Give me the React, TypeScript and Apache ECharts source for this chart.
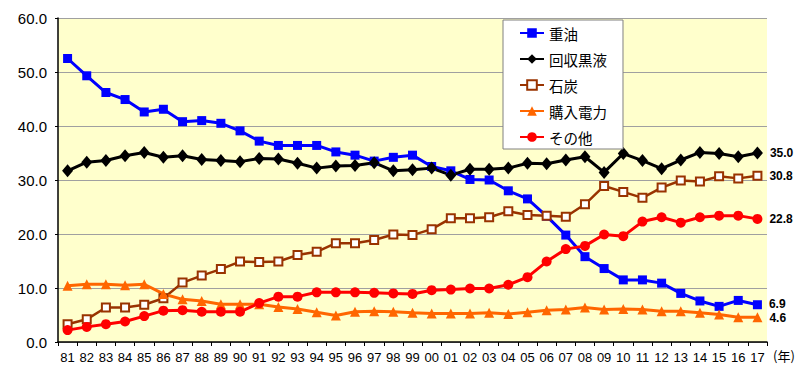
import React, { useEffect, useRef } from "react";
import * as echarts from "echarts";

const years = ["81","82","83","84","85","86","87","88","89","90","91","92","93","94","95","96","97","98","99","00","01","02","03","04","05","06","07","08","09","10","11","12","13","14","15","16","17"];

const heavyOil = [52.5,49.3,46.2,44.9,42.6,43.1,40.8,41.0,40.5,39.1,37.2,36.4,36.4,36.4,35.2,34.6,33.5,34.2,34.6,32.5,31.7,30.1,30.0,28.0,26.5,23.3,19.8,15.8,13.6,11.5,11.5,10.9,9.0,7.6,6.6,7.7,6.9];
const blackLiquor = [31.7,33.3,33.6,34.5,35.1,34.2,34.5,33.8,33.6,33.4,34.0,33.9,33.1,32.2,32.6,32.7,33.2,31.7,31.9,32.2,30.9,32.0,32.0,32.2,33.1,33.0,33.7,34.3,31.4,34.9,33.6,32.1,33.7,35.1,34.9,34.3,35.0];
const coal = [3.3,4.2,6.4,6.4,6.9,8.1,11.0,12.3,13.5,14.9,14.8,14.9,16.1,16.7,18.3,18.3,18.9,19.9,19.8,20.9,22.9,22.9,23.1,24.2,23.5,23.4,23.2,25.5,28.9,27.8,26.7,28.6,29.9,29.7,30.7,30.3,30.8];
const purchased = [10.4,10.7,10.7,10.5,10.7,8.9,7.9,7.6,7.0,7.0,7.0,6.5,6.1,5.5,4.9,5.6,5.7,5.6,5.4,5.3,5.3,5.3,5.4,5.2,5.5,5.9,6.0,6.4,6.0,6.1,6.0,5.7,5.7,5.4,5.1,4.6,4.6];
const other = [2.2,2.8,3.3,3.8,4.8,5.8,5.9,5.6,5.6,5.6,7.2,8.4,8.4,9.2,9.2,9.2,9.1,9.0,8.9,9.6,9.7,9.9,9.9,10.6,12.0,14.9,17.2,17.8,19.9,19.6,22.3,23.1,22.1,23.1,23.4,23.4,22.8];

const yTicks = [0, 10, 20, 30, 40, 50, 60];
const seriesNames = ["重油", "回収黒液", "石炭", "購入電力", "その他"];

const NUM_FONT = "'Liberation Sans', Arial, sans-serif";
const CJK_FONT = "'Noto Sans CJK JP', sans-serif";

function withEndLabel(values: number[], offsetY: number) {
  return values.map((v, i) =>
    i === values.length - 1
      ? {
          value: v,
          label: {
            show: true,
            position: "right",
            distance: 7,
            offset: [0, offsetY],
            formatter: (p: any) => Number(p.value).toFixed(1),
            color: "#000",
            fontWeight: "bold",
            fontSize: 12,
            fontFamily: NUM_FONT,
          },
        }
      : v
  );
}

export default function App() {
  const ref = useRef<HTMLDivElement>(null);
  useEffect(() => {
    if (!ref.current) return;
    const chart = echarts.init(ref.current, undefined, { renderer: "svg" });
    const base = (name: string, data: number[], color: string, symbol: string, size: any, offY: number, extra: any = {}) => ({
      name,
      type: "line",
      data: withEndLabel(data, offY),
      symbol,
      symbolSize: size,
      showAllSymbol: true,
      lineStyle: { color, width: 3 },
      itemStyle: { color },
      emphasis: { disabled: true },
      ...extra,
    });
    chart.setOption({
      animation: false,
      backgroundColor: "#fff",
      grid: {
        left: 58,
        right: 32,
        top: 18,
        bottom: 25,
        show: true,
        backgroundColor: "#FFFFCC",
        borderWidth: 0,
      },
      legend: {
        orient: "vertical",
        left: 503,
        top: 20,
        padding: [5, 16, 4, 16],
        itemGap: 10,
        itemWidth: 24,
        itemHeight: 12,
        backgroundColor: "#fff",
        borderColor: "#808080",
        borderWidth: 1,
        borderRadius: 0,
        data: seriesNames,
        textStyle: { fontSize: 14.5, lineHeight: 16, color: "#000", fontFamily: CJK_FONT },
      },
      xAxis: {
        type: "category",
        data: years,
        boundaryGap: true,
        axisLine: { lineStyle: { color: "#000", width: 1.5 } },
        axisTick: { show: true, length: 4, lineStyle: { color: "#000" } },
        axisLabel: { color: "#000", fontSize: 13, margin: 9, fontFamily: NUM_FONT, interval: 0 },
        splitLine: { show: false },
      },
      yAxis: {
        type: "value",
        min: yTicks[0],
        max: yTicks[yTicks.length - 1],
        interval: 10,
        axisLine: { show: true, lineStyle: { color: "#000", width: 1.5 } },
        axisTick: { show: true, length: 3, lineStyle: { color: "#000" } },
        axisLabel: {
          color: "#000",
          fontSize: 15,
          margin: 11,
          fontFamily: NUM_FONT,
          formatter: (v: number) => v.toFixed(1),
        },
        splitLine: { show: true, lineStyle: { color: "#A0A0A0", width: 1 } },
      },
      graphic: [
        {
          type: "text",
          left: 773,
          top: 349,
          style: { text: "(年)", fontSize: 13, fill: "#000", fontFamily: CJK_FONT },
        },
      ],
      series: [
        base(seriesNames[0], heavyOil, "#0000FF", "rect", 9, -1),
        base(seriesNames[1], blackLiquor, "#000000", "diamond", [11, 13], 0),
        base(seriesNames[2], coal, "#993300", "rect", 8, 0, {
          lineStyle: { color: "#993300", width: 2.5 },
          itemStyle: { color: "#FFFFFF", borderColor: "#993300", borderWidth: 2 },
        }),
        base(seriesNames[3], purchased, "#FF6600", "triangle", 10, 1),
        base(seriesNames[4], other, "#FF0000", "circle", 10, 0),
      ],
    });
    return () => chart.dispose();
  }, []);
  return (
    <div
      ref={ref}
      style={{ position: "fixed", left: 0, top: 0, width: 799, height: 367, background: "#fff" }}
    />
  );
}
